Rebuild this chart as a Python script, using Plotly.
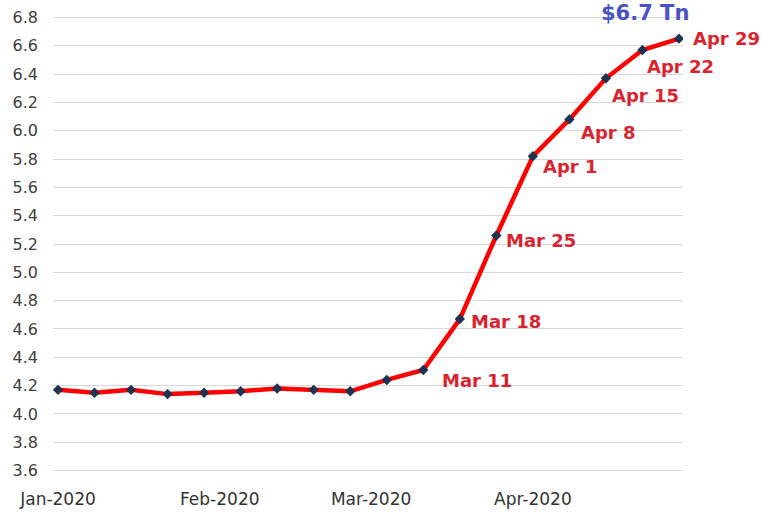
import plotly.graph_objects as go

# Weekly Federal Reserve balance sheet total (USD trillions), Wednesdays of 2020
dates = [
    "2020-01-01", "2020-01-08", "2020-01-15", "2020-01-22", "2020-01-29",
    "2020-02-05", "2020-02-12", "2020-02-19", "2020-02-26", "2020-03-04",
    "2020-03-11", "2020-03-18", "2020-03-25", "2020-04-01", "2020-04-08",
    "2020-04-15", "2020-04-22", "2020-04-29",
]
values = [
    4.17, 4.15, 4.17, 4.14, 4.15, 4.16, 4.18, 4.17, 4.16, 4.24,
    4.31, 4.67, 5.26, 5.82, 6.08, 6.37, 6.57, 6.65,
]

# Weekly call-outs: (index into the series, label, x shift px, y shift px)
callouts = [
    (10, "Mar 11", 17, -10),
    (11, "Mar 18", 9, -2),
    (12, "Mar 25", 8, -5),
    (13, "Apr 1", 8, -10),
    (14, "Apr 8", 10, -13),
    (15, "Apr 15", 4, -17),
    (16, "Apr 22", 3, -17),
    (17, "Apr 29", 12, 0),
]
headline = "$6.7 Tn"

month_ticks = ["2020-01-01", "2020-02-01", "2020-03-01", "2020-04-01"]
month_labels = ["Jan-2020", "Feb-2020", "Mar-2020", "Apr-2020"]
y_ticks = [round(3.6 + 0.2 * i, 1) for i in range(17)]

RED_LINE = "#ff0000"
RED_TEXT = "#d8242f"
MARKER = "#1f3250"
BLUE = "#4a52c6"

fig = go.Figure()
fig.add_trace(go.Scatter(
    x=dates, y=values, mode="lines+markers",
    line=dict(color=RED_LINE, width=4.5),
    marker=dict(symbol="diamond", size=8, color=MARKER),
    hoverinfo="x+y", showlegend=False,
))

for idx, label, dx, dy in callouts:
    fig.add_annotation(
        x=dates[idx], y=values[idx], text=f"<b>{label}</b>",
        showarrow=False, xanchor="left", yanchor="middle",
        xshift=dx, yshift=dy,
        font=dict(family="DejaVu Sans", size=18, color=RED_TEXT),
    )

fig.add_annotation(
    x=dates[-1], y=values[-1], text=f"<b>{headline}</b>",
    showarrow=False, xanchor="center", yanchor="middle",
    xshift=-34, yshift=26,
    font=dict(family="DejaVu Sans", size=21, color=BLUE),
)

fig.update_layout(
    width=761, height=512,
    margin=dict(l=53, r=78, t=16, b=40),
    paper_bgcolor="white", plot_bgcolor="white",
    font=dict(family="DejaVu Sans", color="#404040"),
    xaxis=dict(
        type="date",
        range=["2019-12-31 01:00", "2020-04-29 18:30"],
        tickvals=month_ticks, ticktext=month_labels,
        tickfont=dict(size=17, color="#333333"),
        showgrid=False, zeroline=False, showline=False,
        ticks="", ticklabelstandoff=15, automargin=False,
    ),
    yaxis=dict(
        range=[3.59, 6.81],
        tickvals=y_ticks, ticktext=[f"{v:.1f}" for v in y_ticks],
        tickfont=dict(size=16, color="#404040"),
        showgrid=True, gridcolor="#d9d9d9", gridwidth=1,
        zeroline=False, showline=False,
        ticks="", ticklabelstandoff=14, automargin=False,
    ),
)

fig.write_html("out.html")
